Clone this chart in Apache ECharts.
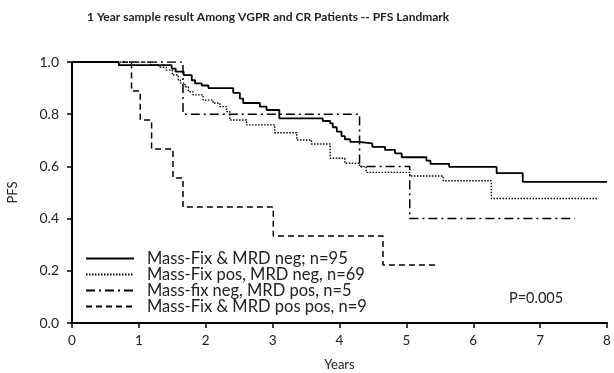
<!DOCTYPE html>
<html>
<head>
<meta charset="utf-8">
<script src="https://cdn.jsdelivr.net/npm/echarts@6/dist/echarts.min.js"></script>
<style>
  html, body { margin: 0; padding: 0; background: #fff; }
  #main { width: 614px; height: 373px; }
</style>
</head>
<body>
<div id="main"></div>
<script>
// KM step points (time in years, PFS after the drop)
var negNegT = [0, 0.70, 1.49, 1.55, 1.67, 1.79, 1.84, 1.94, 2.04, 2.41, 2.51, 2.56, 2.81, 2.91, 3.10, 3.75, 3.86, 3.90, 3.96, 4.03, 4.08, 4.16, 4.28, 4.49, 4.68, 4.83, 4.93, 5.30, 5.36, 5.64, 6.35, 6.74, 8.0];
var negNegS = [1.0, 0.988, 0.975, 0.963, 0.95, 0.93, 0.918, 0.91, 0.90, 0.882, 0.86, 0.843, 0.829, 0.816, 0.784, 0.774, 0.765, 0.75, 0.733, 0.716, 0.704, 0.694, 0.688, 0.675, 0.663, 0.65, 0.635, 0.622, 0.61, 0.598, 0.574, 0.541, 0.541];

var posNegT = [0, 1.17, 1.30, 1.41, 1.50, 1.59, 1.62, 1.69, 1.74, 1.81, 1.96, 2.11, 2.21, 2.31, 2.36, 2.61, 3.03, 3.36, 3.58, 3.86, 4.08, 4.30, 4.40, 5.05, 5.55, 6.27, 7.87];
var posNegS = [1.0, 0.99, 0.98, 0.969, 0.95, 0.931, 0.919, 0.905, 0.886, 0.874, 0.854, 0.843, 0.829, 0.81, 0.778, 0.759, 0.729, 0.701, 0.686, 0.631, 0.612, 0.599, 0.577, 0.563, 0.545, 0.477, 0.477];

var negPosT = [0, 1.66, 4.30, 5.05, 7.52];
var negPosS = [1.0, 0.8, 0.6, 0.4, 0.4];

var posPosT = [0, 0.89, 1.02, 1.19, 1.51, 1.66, 3.01, 4.65, 5.48];
var posPosS = [1.0, 0.889, 0.778, 0.667, 0.556, 0.444, 0.333, 0.222, 0.222];

var seriesNames = ['Mass-Fix & MRD neg; n=95', 'Mass-Fix pos, MRD neg, n=69', 'Mass-fix neg, MRD pos, n=5', 'Mass-Fix & MRD pos pos, n=9'];
var xTicks = [0, 1, 2, 3, 4, 5, 6, 7, 8];
var yTicks = [0, 0.2, 0.4, 0.6, 0.8, 1.0];

function zip(t, s) {
  return t.map(function (v, i) { return [v, s[i]]; });
}

var chart = echarts.init(document.getElementById('main'));
var font = 'Lato, "Open Sans", sans-serif';

function km(name, t, s, width, type) {
  return {
    name: name,
    type: 'line',
    step: 'end',
    symbol: 'none',
    silent: true,
    animation: false,
    data: zip(t, s),
    lineStyle: { color: '#000', width: width, type: type },
    itemStyle: { color: '#000' }
  };
}

var option = {
  backgroundColor: '#fff',
  textStyle: { fontFamily: font },
  title: {
    text: '1 Year sample result Among VGPR and CR Patients -- PFS Landmark',
    left: 82,
    top: 6,
    textStyle: { fontSize: 12, fontWeight: 'bold', color: '#222', fontFamily: font }
  },
  legend: {
    orient: 'vertical',
    left: 80,
    top: 245,
    itemWidth: 48,
    itemHeight: 12,
    itemGap: -1,
    itemStyle: { opacity: 0 },
    data: seriesNames,
    textStyle: { fontSize: 16.5, lineHeight: 16.5, color: '#222', fontFamily: font, padding: [0, 0, 0, 8] }
  },
  grid: { left: 72, right: 7, top: 62, bottom: 50, outerBoundsMode: 'none' },
  xAxis: {
    type: 'value',
    min: 0,
    max: 8,
    interval: 1,
    name: 'Years',
    nameLocation: 'middle',
    nameGap: 35,
    nameTextStyle: { fontSize: 13, color: '#222' },
    axisLine: { lineStyle: { color: '#000', width: 2 } },
    axisTick: { lineStyle: { color: '#000', width: 1.5 }, length: 5 },
    axisLabel: { fontSize: 13.5, color: '#222', margin: 11 },
    splitLine: { show: false }
  },
  yAxis: {
    type: 'value',
    min: 0,
    max: 1,
    interval: 0.2,
    name: 'PFS',
    nameLocation: 'middle',
    nameGap: 53,
    nameTextStyle: { fontSize: 13, color: '#222' },
    axisLine: { show: true, lineStyle: { color: '#000', width: 2 } },
    axisTick: { show: true, lineStyle: { color: '#000', width: 1.5 }, length: 5 },
    axisLabel: { fontSize: 14, color: '#222', margin: 13, formatter: function (v) { return v.toFixed(1); } },
    splitLine: { show: false }
  },
  graphic: [{
    type: 'text',
    left: 509,
    top: 291,
    style: { text: 'P=0.005', fontSize: 14.5, fill: '#222', fontFamily: font }
  }],
  series: [
    km(seriesNames[0], negNegT, negNegS, 1.8, 'solid'),
    km(seriesNames[1], posNegT, posNegS, 1.4, [1.5, 1.5]),
    km(seriesNames[2], negPosT, negPosS, 1.5, [9, 4, 2, 4]),
    km(seriesNames[3], posPosT, posPosS, 1.5, [6, 4])
  ]
};

chart.setOption(option);
</script>
</body>
</html>
